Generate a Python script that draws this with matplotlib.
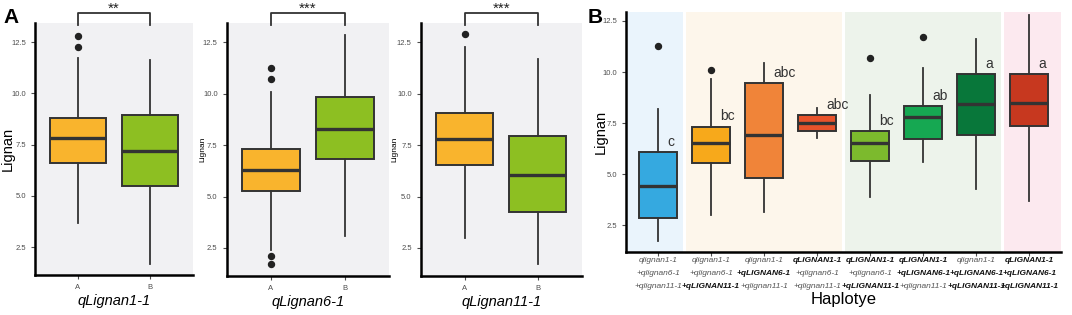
import matplotlib
matplotlib.use("Agg")
import matplotlib.pyplot as plt
from matplotlib.transforms import blended_transform_factory

plt.rcParams['font.family'] = ['Liberation Sans', 'DejaVu Sans']

# ---- panel A: three QTLs, genotype A vs B ----
qtl_names = ['qLignan1-1', 'qLignan6-1', 'qLignan11-1']
qtl_signif = ['**', '***', '***']
geno = ['A', 'B']
a_whislo = [[3.7, 1.7], [2.4, 3.1], [3.0, 1.7]]
a_q1 = [[6.6, 5.5], [5.25, 6.85], [6.55, 4.25]]
a_med = [[7.85, 7.2], [6.3, 8.3], [7.8, 6.05]]
a_q3 = [[8.8, 8.95], [7.3, 9.85], [9.05, 7.95]]
a_whishi = [[11.75, 11.65], [10.1, 12.85], [12.25, 11.7]]
a_fliers = [[[12.25, 12.8], []], [[10.7, 11.25, 1.7, 2.1], []], [[12.9], []]]
a_colors = ['#F9B42D', '#8DBF22']

# ---- panel B: haplotypes ----
genes = ['1-1', '6-1', '11-1']
hap_state = [[0, 0, 0], [0, 0, 1], [0, 1, 0], [1, 0, 0],
             [1, 0, 1], [1, 1, 0], [0, 1, 1], [1, 1, 1]]
b_whislo = [1.72, 3.0, 3.12, 6.78, 3.87, 5.61, 4.26, 3.7]
b_q1 = [2.87, 5.53, 4.8, 7.12, 5.63, 6.72, 6.93, 7.37]
b_med = [4.42, 6.54, 6.93, 7.5, 6.54, 7.81, 8.43, 8.46]
b_q3 = [6.07, 7.32, 9.47, 7.88, 7.12, 8.33, 9.91, 9.88]
b_whishi = [8.18, 9.65, 10.45, 8.25, 8.87, 10.22, 11.64, 12.81]
b_fliers = [[11.26], [10.09], [], [], [10.71], [11.72], [], []]
b_letters = ['c', 'bc', 'abc', 'abc', 'bc', 'ab', 'a', 'a']
b_colors = ['#35A9E0', '#F7A91B', '#F08439', '#E9532B',
            '#7CBA2D', '#16A852', '#08773A', '#C7381F']
group_sizes = [1, 3, 3, 1]
group_bg = ['#EAF4FC', '#FDF6EB', '#EDF3EB', '#FCE9EF']

EDGE = '#333333'
TICKC = '#4D4D4D'


def draw_boxes(ax, stats, colors, width):
    bp = ax.bxp(stats, positions=range(1, len(stats) + 1), widths=width,
                patch_artist=True, showfliers=True,
                boxprops=dict(edgecolor=EDGE, linewidth=1.4),
                medianprops=dict(color=EDGE, linewidth=2.4),
                whiskerprops=dict(color=EDGE, linewidth=1.3),
                capprops=dict(linewidth=0),
                flierprops=dict(marker='o', markersize=4.3, markerfacecolor='#222222',
                                markeredgecolor='#222222'))
    for patch, c in zip(bp['boxes'], colors):
        patch.set_facecolor(c)
    return bp


def style_axes(ax):
    for s in ['top', 'right']:
        ax.spines[s].set_visible(False)
    for s in ['left', 'bottom']:
        ax.spines[s].set_linewidth(1.8)
        ax.spines[s].set_color('black')
    ax.tick_params(axis='both', colors=TICKC, labelsize=5.5, length=3, width=0.8)
    ax.set_yticks([2.5, 5.0, 7.5, 10.0, 12.5])


fig = plt.figure(figsize=(10.72, 3.15), dpi=100)

a_rects = [[0.0326, 0.127, 0.1474, 0.80],
           [0.2115, 0.124, 0.1514, 0.803],
           [0.3925, 0.124, 0.1502, 0.803]]
a_label_x = [-0.13, -0.125, -0.14]

for i, name in enumerate(qtl_names):
    ax = fig.add_axes(a_rects[i])
    ax.set_facecolor('#F1F1F3')
    stats = []
    for j in range(2):
        stats.append(dict(whislo=a_whislo[i][j], q1=a_q1[i][j], med=a_med[i][j],
                          q3=a_q3[i][j], whishi=a_whishi[i][j], fliers=a_fliers[i][j]))
    draw_boxes(ax, stats, a_colors, 0.78)
    ax.set_xlim(0.4, 2.6)
    ax.set_ylim(1.14, 13.44)
    style_axes(ax)
    ax.set_xticks([1, 2])
    ax.set_xticklabels(geno)
    ax.set_xlabel(name, style='italic', fontsize=10.5, labelpad=2)
    if i == 0:
        ax.set_ylabel('Lignan', fontsize=10.5)
    else:
        ax.set_ylabel('Lignan', fontsize=6)
    ax.yaxis.set_label_coords(a_label_x[i], 0.5)
    tr = blended_transform_factory(ax.transData, ax.transAxes)
    ax.plot([1, 1, 2, 2], [0.992, 1.04, 1.04, 0.992], color=EDGE, lw=1.3,
            transform=tr, clip_on=False)
    ax.text(1.5, 1.055, qtl_signif[i], transform=tr, ha='center', va='center',
            fontsize=11, color='#222222')

# panel B
axb = fig.add_axes([0.584, 0.20, 0.4058, 0.7619])
n = len(b_med)
axb.set_xlim(0.4, n + 0.6)
axb.set_ylim(1.18, 12.94)
start = 1
edges = []
for g in group_sizes:
    edges.append((start, start + g - 1))
    start += g
for k, ((lo, hi), c) in enumerate(zip(edges, group_bg)):
    x0 = 0.42 if k == 0 else lo - 0.47
    x1 = n + 0.6 if k == len(edges) - 1 else hi + 0.47
    axb.axvspan(x0, x1, color=c, lw=0, zorder=0)

stats = []
for j in range(n):
    stats.append(dict(whislo=b_whislo[j], q1=b_q1[j], med=b_med[j], q3=b_q3[j],
                      whishi=b_whishi[j], fliers=b_fliers[j]))
draw_boxes(axb, stats, b_colors, 0.72)
for j in range(n):
    axb.text(j + 1.18, b_q3[j] + 0.5, b_letters[j], ha='left', va='center',
             fontsize=10, color='#333333')

style_axes(axb)
axb.set_xticks(range(1, n + 1))
axb.set_xticklabels([''] * n)
axb.set_ylabel('Lignan', fontsize=10.5)
axb.yaxis.set_label_coords(-0.042, 0.5)

trb = blended_transform_factory(axb.transData, axb.transAxes)
line_y = [-0.034, -0.088, -0.142]
for j, st in enumerate(hap_state):
    for g, (gene, on) in enumerate(zip(genes, st)):
        prefix = '' if g == 0 else '+'
        if on:
            txt = prefix + 'qLIGNAN' + gene
            axb.text(j + 1, line_y[g], txt, transform=trb, ha='center', va='center',
                     fontsize=6, style='italic', weight='bold', color='#111111')
        else:
            txt = prefix + 'qlignan' + gene
            axb.text(j + 1, line_y[g], txt, transform=trb, ha='center', va='center',
                     fontsize=6, style='italic', color='#555555')
axb.text(0.5, -0.196, 'Haplotye', transform=axb.transAxes, ha='center', va='center',
         fontsize=12)

fig.text(0.003, 0.975, 'A', fontsize=15, weight='bold', va='top', ha='left')
fig.text(0.548, 0.975, 'B', fontsize=15, weight='bold', va='top', ha='left')

fig.savefig('out.png', dpi=100)
